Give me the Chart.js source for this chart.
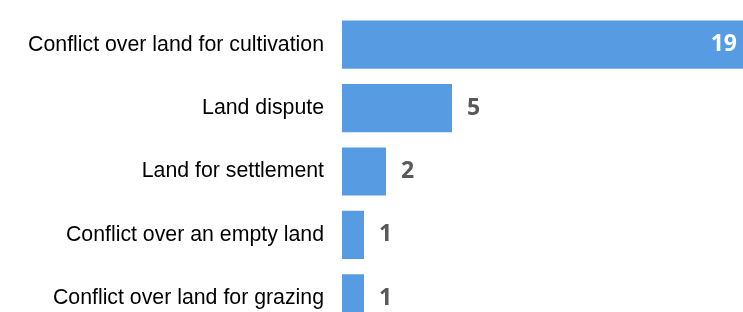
<!DOCTYPE html>
<html>
<head>
<meta charset="utf-8">
<script src="https://cdn.jsdelivr.net/npm/chart.js@4/dist/chart.umd.min.js"></script>
<style>
  html, body { margin: 0; padding: 0; background: #fff; overflow: hidden; }
  canvas { display: block; }
</style>
</head>
<body>
<canvas id="chart" width="743" height="330"></canvas>
<script>
const categories = [
  'Conflict over land for cultivation',
  'Land dispute',
  'Land for settlement',
  'Conflict over an empty land',
  'Conflict over land for grazing'
];
const counts = [19, 5, 2, 1, 1];
const barColor = '#579BE3';

// draws the count next to each bar (inside, in white, when the bar runs off the edge)
const valueLabels = {
  id: 'valueLabels',
  afterDatasetsDraw(chart) {
    const ctx = chart.ctx;
    const area = chart.chartArea;
    const meta = chart.getDatasetMeta(0);
    ctx.save();
    ctx.font = 'bold 23px "Open Sans"';
    ctx.textBaseline = 'middle';
    meta.data.forEach((bar, i) => {
      const v = String(counts[i]);
      if (bar.x >= area.right - 1) {
        ctx.fillStyle = '#ffffff';
        ctx.textAlign = 'right';
        ctx.fillText(v, area.right - 6, bar.y);
      } else {
        ctx.fillStyle = '#595959';
        ctx.textAlign = 'left';
        ctx.fillText(v, bar.x + 15, bar.y);
      }
    });
    ctx.restore();
  }
};

new Chart(document.getElementById('chart'), {
  type: 'bar',
  data: {
    labels: categories,
    datasets: [{
      data: counts,
      backgroundColor: barColor,
      borderWidth: 0,
      categoryPercentage: 0.76,
      barPercentage: 1
    }]
  },
  options: {
    indexAxis: 'y',
    responsive: false,
    animation: false,
    layout: { padding: { left: 0, right: 0, top: 13, bottom: 0 } },
    scales: {
      x: {
        display: false,
        min: 0,
        max: 18.23
      },
      y: {
        grid: { display: false, drawTicks: false },
        border: { display: false },
        afterFit(scale) {
          scale.width = 342;
          scale.paddingTop = 0;
          scale.paddingBottom = 0;
        },
        ticks: {
          color: '#000000',
          padding: 18,
          font: { family: '"Liberation Sans", Arial, sans-serif', size: 21.3 }
        }
      }
    },
    plugins: {
      legend: { display: false },
      tooltip: { enabled: false }
    }
  },
  plugins: [valueLabels]
});
</script>
</body>
</html>
